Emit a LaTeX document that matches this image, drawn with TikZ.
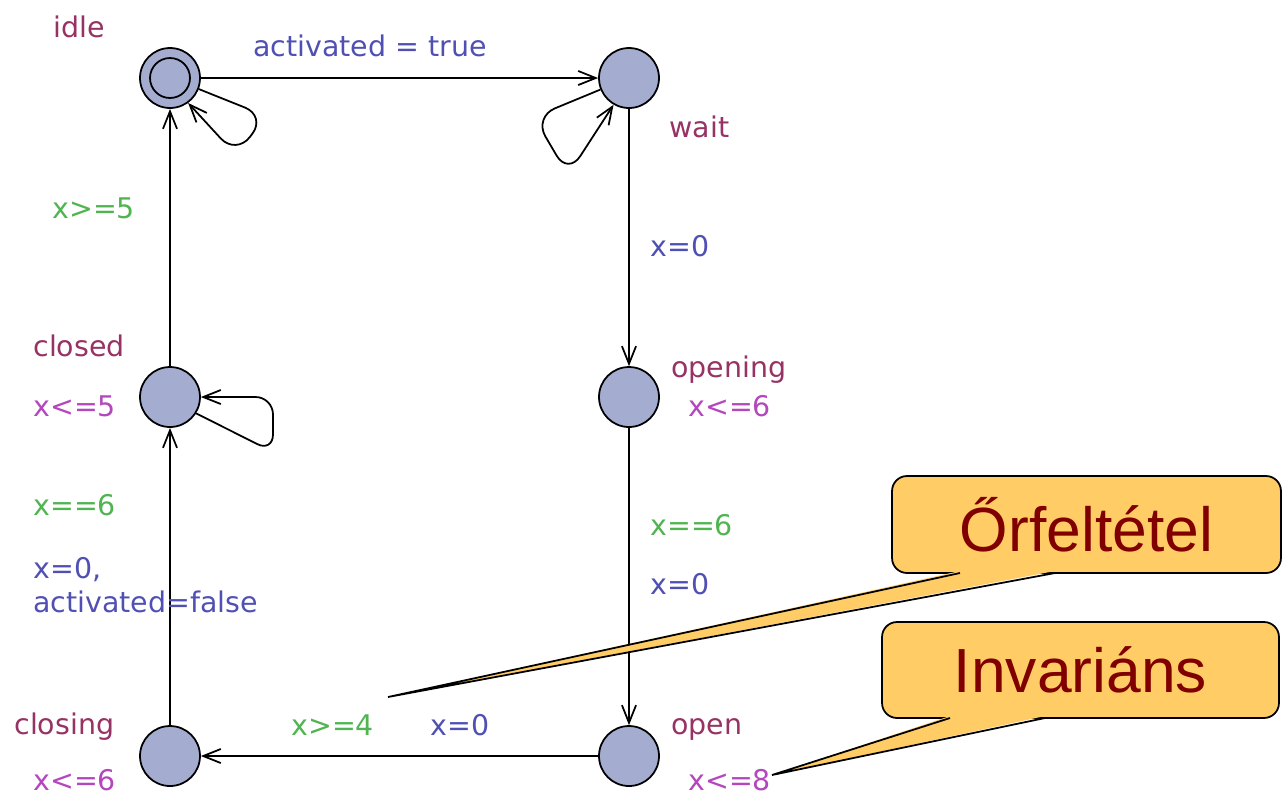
\documentclass[tikz,border=0pt]{standalone}
\usepackage{fontspec}
\setmainfont{DejaVu Sans}
\newfontfamily\callfont{Liberation Sans}
\usetikzlibrary{arrows.meta}
\definecolor{locfill}{RGB}{164,172,208}
\definecolor{namecol}{RGB}{150,50,100}
\definecolor{updcol}{RGB}{80,80,180}
\definecolor{grdcol}{RGB}{80,180,80}
\definecolor{invcol}{RGB}{180,70,190}
\definecolor{callfill}{RGB}{255,204,102}
\definecolor{calltext}{RGB}{128,0,0}
\tikzset{
  loc/.style={circle,draw=black,fill=locfill,line width=1pt,minimum size=1.2cm,inner sep=0pt},
  edge/.style={line width=1pt,-{Straight Barb[length=10pt,width=8pt,line width=1pt]}},
  lbl/.style={anchor=base west,inner sep=0pt,font=\fontsize{16.2}{19}\selectfont},
  nm/.style={lbl,text=namecol},
  upd/.style={lbl,text=updcol},
  grd/.style={lbl,text=grdcol},
  inv/.style={lbl,text=invcol},
  callbox/.style={draw=black,fill=callfill,line width=1pt,rounded corners=0.3cm,text=calltext,font=\callfont\fontsize{35.5}{40}\selectfont},
}
\begin{document}
\begin{tikzpicture}[x=0.02cm,y=-0.02cm]
\useasboundingbox (0,0) rectangle (1282,796);
% locations
\node[loc] (idle) at (170,78) {};
\draw[line width=1pt] (idle.center) circle (0.4cm);
\node[loc] (wait) at (629,78) {};
\node[loc] (closed) at (170,397) {};
\node[loc] (opening) at (629,397) {};
\node[loc] (closing) at (170,756) {};
\node[loc] (open) at (629,756) {};
% edges
\draw[edge] (idle) -- (wait);
\draw[edge] (wait) -- (opening);
\draw[edge] (opening) -- (open);
\draw[edge] (open) -- (closing);
\draw[edge] (closing) -- (closed);
\draw[edge] (closed) -- (idle);
% self loops
\draw[edge,rounded corners=0.45cm] (idle.-21) -- (266,116) -- (236,155) -- (idle.-54);
\draw[edge,rounded corners=0.45cm] (wait.202) -- (534,117) -- (568,175) -- (wait.-120);
\draw[edge,rounded corners=0.35cm] (closed.-32) -- (273,452) -- (273,397) -- (closed.east);
% labels
\node[nm] (lidle) at (53,37) {idle};
\node[upd] (lact) at (253,56) {activated = true};
\node[nm] (lwait) at (669,137) {wait};
\node[upd] (lx0a) at (650,256) {x=0};
\node[grd] (lx5) at (52,218) {x>=5};
\node[nm] (lclosed) at (33,356) {closed};
\node[inv] (linv5) at (33,416) {x<=5};
\node[nm] (lopening) at (671,377) {opening};
\node[inv] (linv6a) at (688,416) {x<=6};
\node[grd] (lx6a) at (33,515) {x==6};
\node[upd] (lx0b) at (33,578) {x=0,};
\node[upd] (lactf) at (33,612) {activated=false};
\node[grd] (lx6b) at (650,535) {x==6};
\node[upd] (lx0c) at (650,594) {x=0};
\node[nm] (lclosing) at (14,734) {closing};
\node[inv] (linv6b) at (33,790) {x<=6};
\node[nm] (lopen) at (671,734) {open};
\node[inv] (linv8) at (688,790) {x<=8};
\node[grd] (lx4) at (291,735) {x>=4};
\node[upd] (lx0d) at (430,735) {x=0};
% callouts
\node[callbox,minimum width=7.78cm,minimum height=1.94cm] (guard) at (1086.5,524.5) {Őrfeltétel};
\node[callbox,minimum width=7.94cm,minimum height=1.92cm] (invar) at (1080.5,670) {Invariáns};
\coordinate (gtip) at (388,697);
\coordinate (itip) at (772,775);
\fill[callfill] (960,571) -- (gtip) -- (1055,571) -- cycle;
\draw[line width=1pt] (960,573) -- (gtip) -- (1055,573);
\fill[callfill] (950,716) -- (itip) -- (1045,716) -- cycle;
\draw[line width=1pt] (950,718) -- (itip) -- (1045,718);
\end{tikzpicture}
\end{document}
